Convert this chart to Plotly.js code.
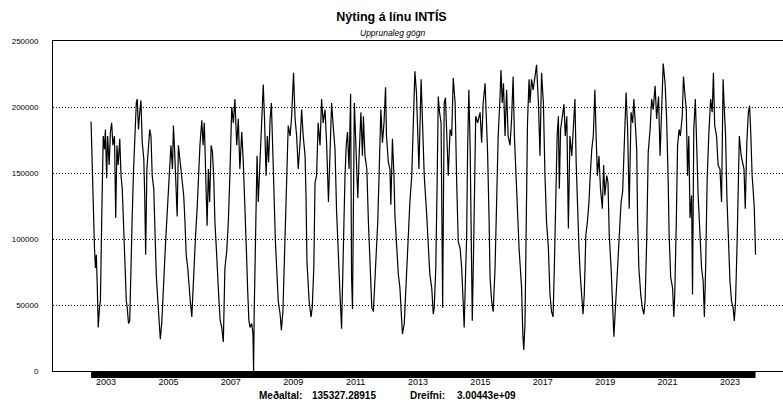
<!DOCTYPE html>
<html>
<head>
<meta charset="utf-8">
<script src="https://cdn.plot.ly/plotly-3.0.1.min.js"></script>
<style>html,body{margin:0;padding:0;background:#fff;}#chart{width:783px;height:406px;}</style>
</head>
<body>
<div id="chart"></div>
<script>
// Time position (decimal year) of each reading
const years = [
2002.52,2002.54,2002.58,2002.63,2002.66,2002.69,2002.72,2002.75,2002.79,2002.82,2002.86,2002.91,2002.95,2002.98,
2003.02,2003.05,2003.10,2003.14,2003.18,2003.22,2003.27,2003.31,2003.35,2003.39,2003.44,2003.48,2003.52,2003.57,2003.61,2003.65,2003.68,2003.72,2003.76,2003.80,2003.84,2003.88,2003.93,2003.97,
2004.00,2004.04,2004.08,2004.12,2004.16,2004.21,2004.24,2004.27,2004.31,2004.36,2004.40,2004.44,2004.48,2004.53,2004.57,2004.61,2004.66,2004.70,2004.74,2004.79,2004.83,2004.87,2004.91,2004.96,
2005.00,2005.04,2005.08,2005.13,2005.16,2005.20,2005.24,2005.28,2005.32,2005.36,2005.40,2005.45,2005.49,2005.53,2005.57,2005.62,2005.66,2005.70,2005.75,2005.79,2005.83,2005.87,2005.92,2005.96,
2006.01,2006.07,2006.11,2006.15,2006.20,2006.24,2006.28,2006.32,2006.37,2006.41,2006.45,2006.49,2006.54,2006.58,2006.62,2006.66,2006.71,2006.76,2006.81,2006.87,2006.92,2006.97,
2007.03,2007.08,2007.13,2007.19,2007.24,2007.29,2007.35,2007.40,2007.46,2007.50,2007.54,2007.58,2007.62,2007.67,2007.71,2007.73,2007.75,2007.80,2007.84,2007.88,2007.94,2007.99,
2008.04,2008.08,2008.13,2008.17,2008.21,2008.26,2008.30,2008.34,2008.38,2008.43,2008.47,2008.52,2008.58,2008.62,2008.67,2008.71,2008.76,2008.80,2008.84,2008.90,2008.95,
2009.01,2009.06,2009.11,2009.16,2009.22,2009.27,2009.32,2009.38,2009.41,2009.44,2009.51,2009.57,2009.61,2009.66,2009.70,2009.75,2009.80,2009.86,2009.91,2009.96,
2010.02,2010.07,2010.13,2010.18,2010.23,2010.29,2010.34,2010.39,2010.45,2010.50,2010.55,2010.61,2010.66,2010.70,2010.74,2010.79,2010.84,2010.87,2010.90,2010.96,
2011.00,2011.07,2011.11,2011.17,2011.22,2011.25,2011.30,2011.36,2011.41,2011.46,2011.52,2011.57,2011.60,2011.64,2011.71,2011.75,2011.81,2011.86,2011.91,2011.96,2011.99,
2012.05,2012.10,2012.13,2012.18,2012.23,2012.26,2012.32,2012.37,2012.42,2012.50,2012.56,2012.64,2012.69,2012.74,2012.80,2012.85,2012.90,2012.95,
2013.00,2013.03,2013.10,2013.14,2013.20,2013.28,2013.33,2013.38,2013.44,2013.49,2013.52,2013.57,2013.61,2013.65,2013.69,2013.74,2013.79,2013.84,2013.88,2013.93,2013.97,
2014.03,2014.08,2014.13,2014.19,2014.24,2014.29,2014.35,2014.40,2014.45,2014.48,2014.53,2014.56,2014.59,2014.63,2014.67,2014.70,2014.74,2014.79,2014.85,2014.91,2014.99,
2015.04,2015.09,2015.15,2015.20,2015.23,2015.28,2015.31,2015.36,2015.41,2015.47,2015.52,2015.57,2015.63,2015.66,2015.70,2015.74,2015.79,2015.84,2015.89,2015.95,
2016.00,2016.05,2016.09,2016.13,2016.19,2016.24,2016.28,2016.32,2016.36,2016.39,2016.43,2016.46,2016.51,2016.56,2016.59,2016.64,2016.69,2016.75,2016.80,2016.86,2016.91,2016.96,
2017.02,2017.07,2017.12,2017.18,2017.23,2017.28,2017.33,2017.37,2017.41,2017.46,2017.50,2017.53,2017.57,2017.63,2017.68,2017.72,2017.77,2017.82,2017.87,2017.93,2017.98,
2018.03,2018.07,2018.12,2018.16,2018.20,2018.25,2018.29,2018.33,2018.38,2018.43,2018.48,2018.52,2018.57,2018.62,2018.67,2018.71,2018.75,2018.80,2018.85,2018.91,2018.95,2018.99,
2019.05,2019.09,2019.13,2019.19,2019.23,2019.28,2019.34,2019.39,2019.46,2019.51,2019.56,2019.61,2019.67,2019.72,2019.77,2019.83,2019.88,2019.92,2019.98,
2020.01,2020.04,2020.08,2020.14,2020.19,2020.24,2020.28,2020.33,2020.38,2020.44,2020.49,2020.54,2020.60,2020.65,2020.71,2020.76,2020.81,2020.86,2020.92,2020.97,
2021.02,2021.05,2021.10,2021.16,2021.20,2021.23,2021.28,2021.32,2021.37,2021.41,2021.47,2021.51,2021.55,2021.60,2021.64,2021.68,2021.72,2021.77,2021.80,2021.84,2021.89,2021.93,2021.98,
2022.04,2022.09,2022.14,2022.18,2022.22,2022.27,2022.32,2022.38,2022.43,2022.47,2022.51,2022.57,2022.62,2022.68,2022.73,2022.78,2022.81,2022.86,2022.90,2022.94,
2023.00,2023.05,2023.10,2023.14,2023.18,2023.23,2023.27,2023.30,2023.36,2023.41,2023.45,2023.49,2023.54,2023.59,2023.63,2023.67,2023.71,2023.76,2023.78,2023.82
];

// Line utilisation readings
const values = [
189000,171000,128000,93000,78000,88000,63000,33000,48000,53000,113000,178000,168000,183000,
146000,178000,156000,181000,188000,171000,178000,116000,171000,156000,176000,148000,138000,98000,73000,53000,48000,36000,38000,91000,118000,151000,178000,203000,
206000,183000,196000,205000,173000,161000,133000,88000,153000,168000,183000,178000,148000,138000,103000,73000,53000,33000,24000,38000,66000,78000,98000,123000,
138000,163000,171000,153000,186000,166000,138000,117000,171000,163000,153000,141000,133000,113000,88000,78000,63000,53000,41000,63000,93000,103000,123000,148000,
171000,190000,171000,188000,148000,110000,153000,128000,171000,166000,148000,113000,91000,68000,53000,38000,33000,22000,78000,91000,113000,148000,
200000,188000,206000,171000,191000,153000,181000,158000,123000,91000,61000,38000,33000,36000,28000,0,45000,103000,163000,128000,163000,188000,
217000,191000,148000,178000,158000,191000,203000,171000,133000,98000,78000,53000,43000,31000,45000,78000,118000,153000,186000,178000,193000,
226000,191000,178000,153000,173000,198000,178000,163000,133000,83000,53000,41000,48000,78000,143000,148000,188000,171000,206000,188000,
198000,173000,128000,171000,203000,183000,168000,121000,78000,58000,32000,103000,148000,171000,181000,153000,210000,71000,47000,203000,
178000,131000,161000,196000,163000,193000,163000,153000,113000,78000,48000,45000,58000,78000,113000,146000,198000,173000,188000,215000,178000,
158000,153000,126000,176000,148000,118000,93000,73000,63000,28000,36000,78000,108000,128000,148000,191000,227000,211000,
183000,153000,221000,188000,148000,118000,91000,73000,63000,43000,48000,78000,138000,208000,196000,188000,48000,203000,207000,166000,148000,
183000,178000,222000,203000,143000,98000,93000,78000,51000,33000,78000,103000,168000,213000,171000,128000,38000,103000,193000,188000,196000,
173000,203000,218000,191000,166000,113000,71000,53000,45000,78000,136000,178000,208000,228000,203000,218000,178000,213000,178000,171000,
191000,223000,178000,151000,111000,93000,78000,63000,28000,16000,36000,103000,188000,221000,203000,221000,213000,223000,232000,203000,163000,226000,
203000,148000,113000,93000,58000,45000,41000,78000,128000,178000,193000,138000,183000,193000,202000,178000,193000,108000,178000,163000,183000,
206000,158000,116000,93000,73000,58000,43000,58000,103000,113000,128000,148000,168000,178000,213000,178000,148000,163000,138000,123000,156000,133000,
148000,143000,103000,78000,53000,26000,53000,78000,106000,128000,136000,178000,211000,183000,123000,196000,188000,206000,181000,
168000,113000,78000,58000,48000,43000,53000,98000,166000,183000,206000,198000,216000,191000,208000,163000,198000,233000,218000,191000,
143000,103000,71000,63000,41000,58000,113000,171000,183000,178000,193000,223000,211000,198000,148000,178000,116000,133000,58000,183000,206000,173000,133000,
103000,78000,68000,41000,78000,146000,178000,206000,196000,226000,186000,178000,156000,153000,128000,221000,203000,178000,133000,103000,
68000,53000,48000,38000,53000,98000,148000,178000,163000,158000,153000,123000,173000,196000,201000,178000,148000,131000,123000,88000
];

const xTickVals = [2003,2005,2007,2009,2011,2013,2015,2017,2019,2021,2023];
const xTickText = ['2003','2005','2007','2009','2011','2013','2015','2017','2019','2021','2023'];
const yTickVals = [0,50000,100000,150000,200000,250000];
const yTickText = ['0','50000','100000','150000','200000','250000'];

const titleText = 'Nýting á línu INTÍS';
const subtitleText = 'Upprunaleg gögn';
const statLabels = ['Meðaltal:', 'Dreifni:'];
const statValues = ['135327.28915', '3.00443e+09'];

const FONT = 'Liberation Sans, Arial, sans-serif';
const W = 783, H = 406;
const M = {l: 53, r: 0, t: 41, b: 35};
const plotW = W - M.l - M.r, plotH = H - M.t - M.b;
const px2x = p => (p - M.l) / plotW;      // page px -> paper x
const py2y = p => (H - M.b - p) / plotH;  // page px -> paper y

const trace = {
  x: years, y: values, type: 'scatter', mode: 'lines',
  line: {color: '#000', width: 1.2}, hoverinfo: 'skip', showlegend: false
};

const statX = [257, 310, 408, 455];
const statTexts = [statLabels[0], statValues[0], statLabels[1], statValues[1]];
const annotations = statTexts.map((t, i) => ({
  text: '<b>' + t + '</b>', xref: 'paper', yref: 'paper',
  x: px2x(statX[i]), y: py2y(395), xanchor: 'left', yanchor: 'middle',
  showarrow: false, font: {family: FONT, size: 10, color: '#000'}
}));
annotations.push({
  text: '<i>' + subtitleText + '</i>', xref: 'paper', yref: 'paper',
  x: px2x(392), y: py2y(33), xanchor: 'center', yanchor: 'middle',
  showarrow: false, font: {family: FONT, size: 8.5, color: '#000'}
});

const layout = {
  width: W, height: H,
  margin: M,
  paper_bgcolor: '#fff', plot_bgcolor: '#fff',
  showlegend: false,
  title: {
    text: '<b>' + titleText + '</b>',
    x: 0.5, xref: 'container', xanchor: 'center',
    y: 1 - 17 / H, yref: 'container', yanchor: 'middle',
    font: {family: FONT, size: 12.5, color: '#000'}
  },
  xaxis: {
    range: [2001.30, 2024.70],
    tickmode: 'array', tickvals: xTickVals, ticktext: xTickText,
    showgrid: false, zeroline: false,
    showline: true, linecolor: '#000', linewidth: 1, mirror: true,
    ticks: '', ticklabelstandoff: 2,
    tickfont: {family: FONT, size: 9, color: '#000'}
  },
  yaxis: {
    range: [0, 250000],
    tickmode: 'array', tickvals: yTickVals, ticktext: yTickText,
    showgrid: true, gridcolor: '#000', gridwidth: 1, griddash: '1px,2px',
    zeroline: false,
    showline: true, linecolor: '#000', linewidth: 1,
    ticks: '', ticklabelstandoff: 12,
    tickfont: {family: FONT, size: 8, color: '#000'}
  },
  shapes: [{
    type: 'rect', xref: 'x', yref: 'paper',
    x0: years[0], x1: years[years.length - 1],
    y0: -7 / plotH, y1: 0,
    fillcolor: '#000', line: {width: 0}, layer: 'above'
  }],
  annotations: annotations
};

Plotly.newPlot('chart', [trace], layout, {staticPlot: true, displayModeBar: false});
</script>
</body>
</html>
